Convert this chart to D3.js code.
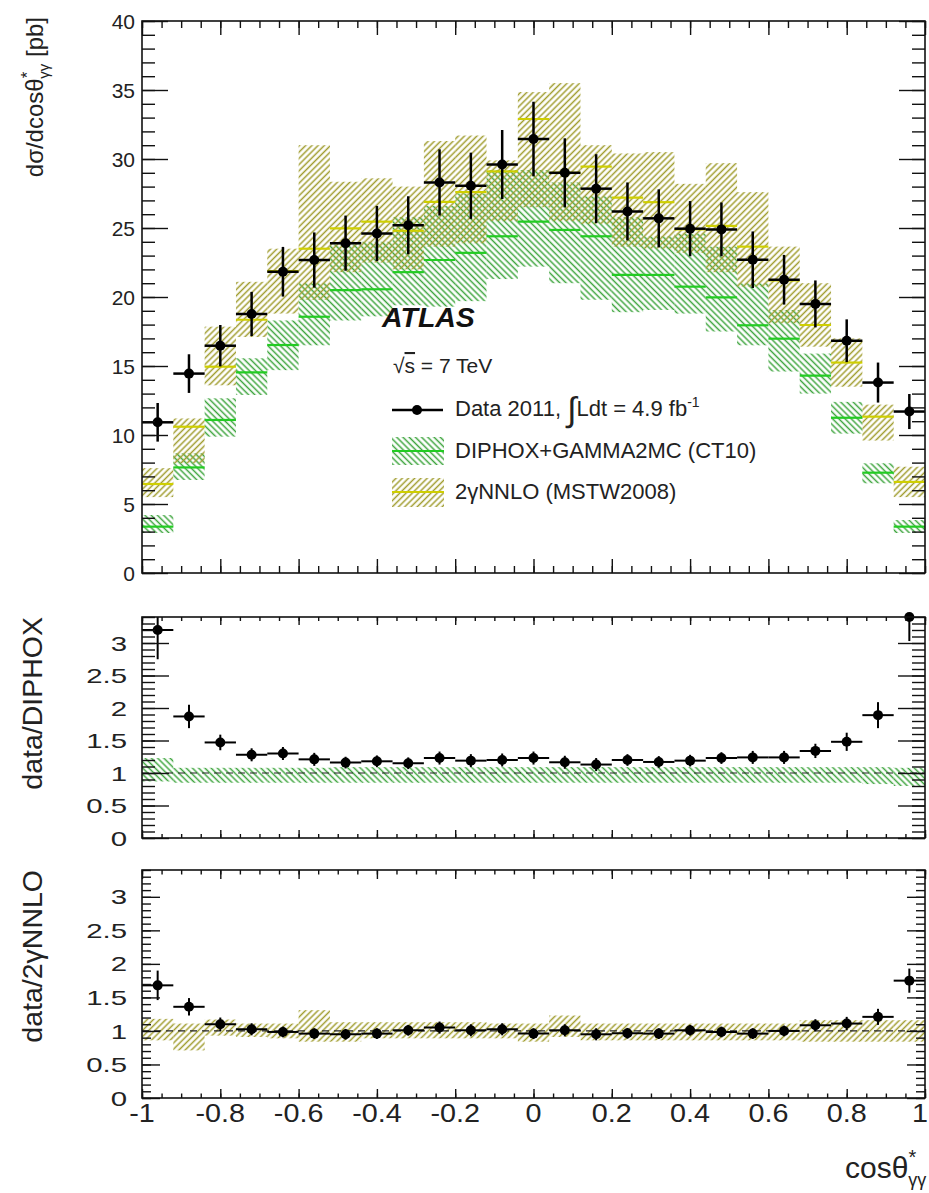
<!DOCTYPE html>
<html>
<head>
<meta charset="utf-8">
<script src="https://cdn.jsdelivr.net/npm/d3@7"></script>
<style>
body { margin: 0; background: #fff; }
text { font-family: "Liberation Sans", Arial, sans-serif; fill: #222; }
</style>
</head>
<body>
<svg id="fig" width="929" height="1193"></svg>
<script>
// bin centres of cos(theta*), bin width 0.08
var binCenters = [-0.96, -0.88, -0.80, -0.72, -0.64, -0.56, -0.48, -0.40, -0.32, -0.24, -0.16, -0.08, 0.00,
  0.08, 0.16, 0.24, 0.32, 0.40, 0.48, 0.56, 0.64, 0.72, 0.80, 0.88, 0.96];
var binHalf = 0.04;

// measured cross section [pb]
var dataXs = [10.92, 14.45, 16.47, 18.77, 21.83, 22.68, 23.9, 24.6, 25.2, 28.3, 28.06, 29.6, 31.45,
  29.0, 27.85, 26.2, 25.7, 24.95, 24.9, 22.7, 21.25, 19.5, 16.83, 13.8, 11.7];
var dataErr = [1.4, 1.4, 1.5, 1.6, 1.8, 2.0, 2.0, 2.0, 2.1, 2.4, 2.4, 2.5, 2.7,
  2.5, 2.5, 2.1, 2.1, 2.0, 1.95, 2.05, 1.8, 1.7, 1.55, 1.45, 1.27];

// DIPHOX+GAMMA2MC (CT10)
var diphox = [3.36, 7.65, 11.09, 14.54, 16.52, 18.57, 20.5, 20.56, 21.8, 22.68, 23.2, 24.4, 25.46,
  24.86, 24.4, 21.6, 21.6, 20.75, 19.97, 17.95, 16.98, 14.3, 11.25, 7.27, 3.36];
var diphoxLo = [2.9, 6.74, 9.88, 12.9, 14.7, 16.5, 18.3, 18.6, 19.4, 19.3, 19.7, 21.3, 22.2,
  21.0, 19.8, 18.9, 19.06, 18.8, 17.5, 16.5, 14.6, 13.0, 10.1, 6.5, 2.9];
var diphoxHi = [4.2, 8.67, 12.66, 15.56, 18.3, 21.0, 23.8, 24.0, 25.8, 26.6, 27.5, 29.2, 29.2,
  28.3, 27.3, 25.8, 24.4, 24.6, 23.65, 21.0, 19.06, 15.9, 12.4, 7.95, 3.84];

// 2gammaNNLO (MSTW2008)
var nnlo = [6.45, 10.6, 14.95, 18.35, 21.88, 23.5, 24.97, 25.46, 24.8, 26.9, 27.6, 29.1, 32.9,
  29.0, 29.45, 27.2, 26.87, 24.9, 25.15, 23.65, 21.2, 17.97, 15.25, 11.33, 6.6];
var nnloLo = [5.5, 7.95, 13.6, 17.1, 18.8, 19.8, 21.8, 22.5, 22.0, 23.65, 23.9, 25.5, 26.5,
  25.5, 25.3, 23.65, 23.5, 23.2, 21.8, 20.75, 18.1, 16.4, 13.5, 9.6, 5.5];
var nnloHi = [7.6, 11.2, 17.85, 21.1, 23.5, 31.0, 28.35, 28.6, 28.0, 31.3, 31.7, 29.9, 34.85,
  35.5, 31.0, 30.4, 30.5, 28.2, 29.7, 27.6, 23.65, 21.0, 17.0, 12.2, 7.7];

// data / DIPHOX
var ratioDiphox = [3.2, 1.87, 1.47, 1.28, 1.30, 1.21, 1.16, 1.18, 1.15, 1.23, 1.19, 1.20, 1.23,
  1.165, 1.13, 1.20, 1.17, 1.19, 1.23, 1.24, 1.24, 1.34, 1.48, 1.89, 3.48];
var ratioDiphoxErr = [0.45, 0.18, 0.12, 0.1, 0.1, 0.1, 0.09, 0.09, 0.09, 0.1, 0.1, 0.1, 0.1,
  0.1, 0.1, 0.09, 0.09, 0.09, 0.09, 0.1, 0.1, 0.11, 0.14, 0.2, 0.45];
var diphoxBandLo = [0.87, 0.85, 0.85, 0.85, 0.85, 0.85, 0.85, 0.85, 0.85, 0.85, 0.85, 0.85, 0.85,
  0.85, 0.85, 0.85, 0.85, 0.85, 0.85, 0.85, 0.85, 0.85, 0.85, 0.83, 0.80];
var diphoxBandHi = [1.23, 1.08, 1.08, 1.08, 1.08, 1.08, 1.09, 1.09, 1.09, 1.09, 1.09, 1.09, 1.09,
  1.09, 1.09, 1.09, 1.09, 1.09, 1.09, 1.09, 1.09, 1.09, 1.09, 1.09, 1.08];

// data / 2gammaNNLO
var ratioNnlo = [1.68, 1.36, 1.10, 1.025, 0.985, 0.96, 0.95, 0.96, 1.01, 1.05, 1.01, 1.025, 0.96,
  1.01, 0.95, 0.965, 0.96, 1.01, 0.985, 0.96, 1.0, 1.085, 1.11, 1.21, 1.75];
var ratioNnloErr = [0.22, 0.13, 0.1, 0.09, 0.08, 0.08, 0.08, 0.08, 0.08, 0.09, 0.09, 0.09, 0.08,
  0.09, 0.09, 0.08, 0.08, 0.08, 0.08, 0.08, 0.08, 0.09, 0.1, 0.12, 0.18];
var nnloBandLo = [0.86, 0.71, 0.93, 0.91, 0.89, 0.84, 0.84, 0.89, 0.89, 0.89, 0.89, 0.89, 0.84,
  0.91, 0.86, 0.86, 0.86, 0.86, 0.86, 0.86, 0.86, 0.84, 0.84, 0.84, 0.84];
var nnloBandHi = [1.18, 1.11, 1.17, 1.11, 1.11, 1.31, 1.13, 1.13, 1.13, 1.13, 1.13, 1.11, 1.11,
  1.23, 1.11, 1.11, 1.11, 1.11, 1.11, 1.11, 1.11, 1.16, 1.16, 1.16, 1.16];

// tick labels
var xTickLabels = [-1, -0.8, -0.6, -0.4, -0.2, 0, 0.2, 0.4, 0.6, 0.8, 1];
var yTickLabelsTop = [0, 5, 10, 15, 20, 25, 30, 35, 40];
var yTickLabelsRatio = [0, 0.5, 1, 1.5, 2, 2.5, 3];

var green = '#22cc22', greenHatch = '#3fa53f';
var yellow = '#cfcf00', yellowHatch = '#a09c2e';

var svg = d3.select('#fig');
var defs = svg.append('defs');

function hatch(id, angle, color) {
  var gap = 4.4;
  defs.append('pattern')
    .attr('id', id)
    .attr('patternUnits', 'userSpaceOnUse')
    .attr('width', gap).attr('height', gap)
    .attr('patternTransform', 'rotate(' + angle + ')')
    .append('line')
    .attr('x1', gap / 2).attr('y1', 0).attr('x2', gap / 2).attr('y2', gap)
    .attr('stroke', color).attr('stroke-width', 1.5);
}
hatch('hG', -45, greenHatch);
hatch('hY', 45, yellowHatch);

var x = d3.scaleLinear().domain([-1, 1]).range([142, 925]);
var yTop = d3.scaleLinear().domain([0, 40]).range([573, 21]);
var yMid = d3.scaleLinear().domain([0, 3.4]).range([838, 617]).clamp(true);
var yBot = d3.scaleLinear().domain([0, 3.4]).range([1098, 870]).clamp(true);

var xMinor = d3.range(-1, 1.0001, 0.05);

function clipFor(id, y) {
  defs.append('clipPath').attr('id', id).append('rect')
    .attr('x', x(-1)).attr('y', y.range()[1])
    .attr('width', x(1) - x(-1)).attr('height', y.range()[0] - y.range()[1]);
}

function band(g, y, lo, hi, pat) {
  g.selectAll(null).data(binCenters).enter().append('rect')
    .attr('x', function(d) { return x(d - binHalf); })
    .attr('width', function(d) { return x(d + binHalf) - x(d - binHalf); })
    .attr('y', function(d, i) { return y(hi[i]); })
    .attr('height', function(d, i) { return y(lo[i]) - y(hi[i]); })
    .attr('fill', 'url(#' + pat + ')');
}

function steps(g, y, vals, color) {
  g.selectAll(null).data(binCenters).enter().append('line')
    .attr('x1', function(d) { return x(d - binHalf); })
    .attr('x2', function(d) { return x(d + binHalf); })
    .attr('y1', function(d, i) { return y(vals[i]); })
    .attr('y2', function(d, i) { return y(vals[i]); })
    .attr('stroke', color).attr('stroke-width', 2.2);
}

function points(g, gDots, y, vals, errs, lw) {
  var pts = binCenters.map(function(c, i) { return { c: c, v: vals[i], e: errs[i] }; });
  g.selectAll(null).data(pts).enter().append('line')
    .attr('x1', function(d) { return x(d.c); }).attr('x2', function(d) { return x(d.c); })
    .attr('y1', function(d) { return y(d.v - d.e); }).attr('y2', function(d) { return y(d.v + d.e); })
    .attr('stroke', '#000').attr('stroke-width', lw);
  g.selectAll(null).data(pts.filter(function(d) { return d.v < y.domain()[1]; })).enter().append('line')
    .attr('x1', function(d) { return x(d.c - binHalf); }).attr('x2', function(d) { return x(d.c + binHalf); })
    .attr('y1', function(d) { return y(d.v); }).attr('y2', function(d) { return y(d.v); })
    .attr('stroke', '#000').attr('stroke-width', lw);
  gDots.selectAll(null).data(pts).enter().append('circle')
    .attr('cx', function(d) { return x(d.c); })
    .attr('cy', function(d) { return y(d.v); })
    .attr('r', 5).attr('fill', '#000');
}

function ticks(g, scale, side, pos, vals, len) {
  var ax = side === 'left' ? d3.axisRight(scale) : side === 'right' ? d3.axisLeft(scale)
    : side === 'bottom' ? d3.axisTop(scale) : d3.axisBottom(scale);
  ax.tickValues(vals).tickSize(len).tickFormat('');
  var tr = (side === 'left' || side === 'right') ? 'translate(' + pos + ',0)' : 'translate(0,' + pos + ')';
  var a = g.append('g').attr('transform', tr).call(ax);
  a.select('.domain').remove();
  a.selectAll('line').attr('stroke', '#111').attr('stroke-width', 1.4);
}

function frame(g, y, yMaj, yMin, yMajLen, yMinLen, xMajLen, xMinLen) {
  var r = y.range();
  ticks(g, y, 'left', x(-1), yMaj, yMajLen);
  ticks(g, y, 'left', x(-1), yMin, yMinLen);
  ticks(g, y, 'right', x(1), yMaj, yMajLen);
  ticks(g, y, 'right', x(1), yMin, yMinLen);
  ticks(g, x, 'bottom', r[0], xTickLabels, xMajLen);
  ticks(g, x, 'bottom', r[0], xMinor, xMinLen);
  ticks(g, x, 'top', r[1], xTickLabels, xMajLen);
  ticks(g, x, 'top', r[1], xMinor, xMinLen);
  g.append('rect').attr('x', x(-1)).attr('y', r[1])
    .attr('width', x(1) - x(-1)).attr('height', r[0] - r[1])
    .attr('fill', 'none').attr('stroke', '#111').attr('stroke-width', 1.6);
}

function yLabels(g, scale, vals, right, fs, sx) {
  g.selectAll(null).data(vals).enter().append('text')
    .attr('transform', function(d) { return 'translate(' + right + ',' + scale(d) + ') scale(' + sx + ',1)'; })
    .attr('text-anchor', 'end').attr('dy', '0.36em')
    .style('font-size', fs + 'px')
    .text(function(d) { return String(d); });
}

function dashedOne(g, y) {
  g.append('line').attr('x1', x(-1)).attr('x2', x(1))
    .attr('y1', y(1)).attr('y2', y(1))
    .attr('stroke', '#222').attr('stroke-width', 1.2).attr('stroke-dasharray', '7,5');
}

// ---------- top panel ----------
clipFor('cTop', yTop);
var gTop = svg.append('g');
var gTopC = gTop.append('g').attr('clip-path', 'url(#cTop)');
band(gTopC, yTop, diphoxLo, diphoxHi, 'hG');
band(gTopC, yTop, nnloLo, nnloHi, 'hY');
steps(gTopC, yTop, diphox, green);
steps(gTopC, yTop, nnlo, yellow);
points(gTopC, gTop, yTop, dataXs, dataErr, 2.5);
frame(gTop, yTop, yTickLabelsTop, d3.range(0, 40.01, 1), 26, 13, 14, 7);
yLabels(gTop, yTop, yTickLabelsTop, 135, 21, 1);

var title = gTop.append('text')
  .attr('transform', 'translate(43,17) rotate(-90)')
  .attr('text-anchor', 'end').style('font-size', '24px');
title.append('tspan').text('d\u03c3/dcos\u03b8');
title.append('tspan').style('font-size', '17px').attr('dy', -10).text('*');
title.append('tspan').style('font-size', '15px').attr('dx', -7).attr('dy', 16).text('\u03b3\u03b3');
title.append('tspan').attr('dy', -6).text(' [pb]');

// ATLAS label and legend
gTop.append('text').attr('x', 382).attr('y', 327)
  .style('font-size', '28.5px').style('font-weight', 'bold').style('font-style', 'italic')
  .style('fill', '#111').text('ATLAS');
var rs = gTop.append('text').attr('x', 393).attr('y', 373).style('font-size', '21px');
rs.append('tspan').text('\u221a');
rs.append('tspan').style('text-decoration', 'overline').text('s');
rs.append('tspan').text(' = 7 TeV');

var leg = gTop.append('g');
leg.append('line').attr('x1', 392).attr('x2', 443).attr('y1', 410).attr('y2', 410)
  .attr('stroke', '#000').attr('stroke-width', 2.5);
leg.append('circle').attr('cx', 417).attr('cy', 410).attr('r', 5).attr('fill', '#000');
var lt = leg.append('text').attr('x', 455).attr('y', 416).style('font-size', '22px');
lt.append('tspan').text('Data 2011, ');
lt.append('tspan').style('font-size', '34px').attr('dy', 5).text('\u222b');
lt.append('tspan').attr('dy', -5).text('Ldt = 4.9 fb');
lt.append('tspan').style('font-size', '14px').attr('dy', -9).text('-1');

leg.append('rect').attr('x', 392).attr('y', 437).attr('width', 52).attr('height', 28).attr('fill', 'url(#hG)');
leg.append('line').attr('x1', 392).attr('x2', 444).attr('y1', 451).attr('y2', 451)
  .attr('stroke', green).attr('stroke-width', 2.2);
leg.append('text').attr('x', 455).attr('y', 458).style('font-size', '22px').text('DIPHOX+GAMMA2MC (CT10)');
leg.append('rect').attr('x', 392).attr('y', 478).attr('width', 52).attr('height', 29).attr('fill', 'url(#hY)');
leg.append('line').attr('x1', 392).attr('x2', 444).attr('y1', 492).attr('y2', 492)
  .attr('stroke', yellow).attr('stroke-width', 2.2);
leg.append('text').attr('x', 455).attr('y', 499).style('font-size', '22px').text('2\u03b3NNLO (MSTW2008)');

// ---------- data / DIPHOX ----------
clipFor('cMid', yMid);
var gMid = svg.append('g');
var gMidC = gMid.append('g').attr('clip-path', 'url(#cMid)');
band(gMidC, yMid, diphoxBandLo, diphoxBandHi, 'hG');
dashedOne(gMidC, yMid);
points(gMidC, gMid, yMid, ratioDiphox, ratioDiphoxErr, 2);
frame(gMid, yMid, yTickLabelsRatio, d3.range(0, 3.401, 0.1), 27, 13, 8, 4);
yLabels(gMid, yMid, yTickLabelsRatio, 127, 21, 1.4);
gMid.append('text').attr('transform', 'translate(42,617) rotate(-90)')
  .attr('text-anchor', 'end').style('font-size', '28.5px').text('data/DIPHOX');

// ---------- data / 2gammaNNLO ----------
clipFor('cBot', yBot);
var gBot = svg.append('g');
var gBotC = gBot.append('g').attr('clip-path', 'url(#cBot)');
band(gBotC, yBot, nnloBandLo, nnloBandHi, 'hY');
dashedOne(gBotC, yBot);
points(gBotC, gBot, yBot, ratioNnlo, ratioNnloErr, 2);
frame(gBot, yBot, yTickLabelsRatio, d3.range(0, 3.401, 0.1), 18, 9, 9, 4.5);
yLabels(gBot, yBot, yTickLabelsRatio, 127, 21, 1.4);
gBot.append('text').attr('transform', 'translate(42,870) rotate(-90)')
  .attr('text-anchor', 'end').style('font-size', '28.5px').text('data/2\u03b3NNLO');

// x tick labels; the last one is kept inside the page
gBot.selectAll(null).data(xTickLabels).enter().append('text')
  .attr('transform', function(d) { return 'translate(' + Math.min(x(d), 920) + ',1122) scale(1.15,1)'; })
  .attr('text-anchor', 'middle').style('font-size', '25px')
  .text(function(d) { return String(d); });

var xt = gBot.append('text').attr('x', 845).attr('y', 1178).style('font-size', '30px');
xt.append('tspan').text('cos\u03b8');
xt.append('tspan').style('font-size', '20px').attr('dy', -14).text('*');
xt.append('tspan').style('font-size', '18px').attr('dx', -8).attr('dy', 22).text('\u03b3\u03b3');
</script>
</body>
</html>
